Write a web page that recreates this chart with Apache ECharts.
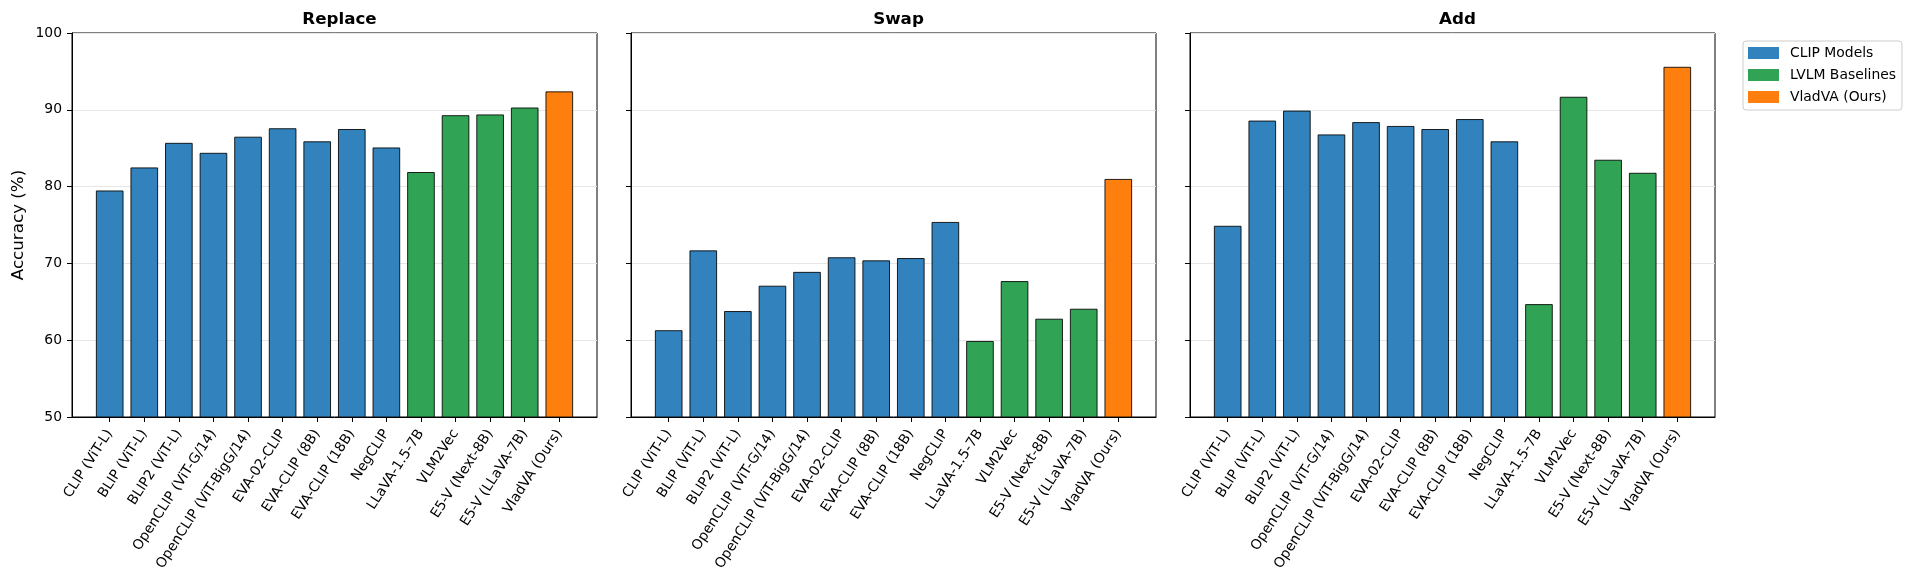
<!DOCTYPE html>
<html><head><meta charset="utf-8">
<script src="https://cdn.jsdelivr.net/npm/echarts@6/dist/echarts.min.js"></script>
<style>html,body{margin:0;padding:0;background:#fff}#c{width:1920px;height:580px}</style>
</head><body><div id="c"></div>
<script>
const categories = ['CLIP (ViT-L)','BLIP (ViT-L)','BLIP2 (ViT-L)','OpenCLIP (ViT-G/14)','OpenCLIP (ViT-BigG/14)','EVA-02-CLIP','EVA-CLIP (8B)','EVA-CLIP (18B)','NegCLIP','LLaVA-1.5-7B','VLM2Vec','E5-V (Next-8B)','E5-V (LLaVA-7B)','VladVA (Ours)'];
const groupNames = ['CLIP Models','LVLM Baselines','VladVA (Ours)'];
const groupOf = [0,0,0,0,0,0,0,0,0,1,1,1,1,2];
const panelTitles = ['Replace','Swap','Add'];
const replaceValues = [79.5, 82.5, 85.7, 84.4, 86.5, 87.6, 85.9, 87.5, 85.1, 81.9, 89.3, 89.4, 90.3, 92.4];
const swapValues    = [61.3, 71.7, 63.8, 67.1, 68.9, 70.8, 70.4, 70.7, 75.4, 59.9, 67.7, 62.8, 64.1, 81.0];
const addValues     = [74.9, 88.6, 89.9, 86.8, 88.4, 87.9, 87.5, 88.8, 85.9, 64.7, 91.7, 83.5, 81.8, 95.6];
const yMin = 50, yMax = 100, yStep = 10;
const yAxisTitle = 'Accuracy (%)';
const colors = ['#3182bd','#31a354','#ff7f0e'];

const panels = [replaceValues, swapValues, addValues];
const gridLeft = [72, 631, 1190], gridW = 525, gridTop = 33, gridH = 384;
const n = categories.length;
const pad = 0.05 * ((n - 1 + 0.4) - (-0.4));
const xMin = -0.4 - pad, xMax = n - 1 + 0.4 + pad;
const barPx = 0.8 * gridW / (xMax - xMin);
const idx = categories.map((_, i) => i);
const FONT = 'DejaVu Sans';

const grids = [], xAxes = [], yAxes = [], series = [], titles = [];
panels.forEach((vals, p) => {
  grids.push({left: gridLeft[p], top: gridTop, width: gridW, height: gridH, show: true,
    borderColor: '#000', borderWidth: 1, backgroundColor: 'transparent'});
  titles.push({text: panelTitles[p], left: gridLeft[p] + gridW / 2, top: 6, textAlign: 'center',
    textStyle: {fontFamily: FONT, fontWeight: 'bold', fontSize: 16.7, color: '#000'}});
  xAxes.push({type: 'value', gridIndex: p, min: xMin, max: xMax,
    splitLine: {show: false},
    axisLine: {show: true, onZero: false, lineStyle: {color: '#000', width: 1}},
    axisTick: {show: true, customValues: idx, length: 5, inside: false, lineStyle: {color: '#000', width: 1}},
    axisLabel: {show: true, customValues: idx, rotate: 57, margin: 14,
      formatter: v => categories[Math.round(v)] || '',
      fontFamily: FONT, fontSize: 13.9, color: '#000'}});
  yAxes.push({type: 'value', gridIndex: p, min: yMin, max: yMax, interval: yStep,
    name: p === 0 ? yAxisTitle : '', nameLocation: 'middle', nameGap: 45,
    nameTextStyle: {fontFamily: FONT, fontSize: 16.7, color: '#000'},
    axisLine: {show: true, onZero: false, lineStyle: {color: '#000', width: 1}},
    axisTick: {show: true, length: 5, inside: false, lineStyle: {color: '#000', width: 1}},
    axisLabel: {show: p === 0, margin: 10, fontFamily: FONT, fontSize: 13.9, color: '#000'},
    splitLine: {show: true, lineStyle: {color: '#e6e6e6', width: 1.1}}});
  groupNames.forEach((gName, g) => {
    series.push({type: 'bar', name: gName, xAxisIndex: p, yAxisIndex: p,
      barWidth: barPx, barGap: '-100%',
      itemStyle: {color: colors[g], borderColor: 'rgba(0,0,0,0.85)', borderWidth: 1},
      data: vals.map((v, i) => groupOf[i] === g ? [i, v] : null).filter(d => d !== null)});
  });
});

const chart = echarts.init(document.getElementById('c'), null, {renderer: 'canvas'});
chart.setOption({
  animation: false,
  backgroundColor: '#fff',
  title: titles,
  grid: grids,
  xAxis: xAxes,
  yAxis: yAxes,
  legend: {data: groupNames, orient: 'vertical', left: 1743, top: 41,
    icon: 'rect', itemWidth: 31, itemHeight: 12, itemGap: 8,
    itemStyle: {borderWidth: 0},
    padding: [5, 6, 6, 5], borderColor: '#cccccc', borderWidth: 1, borderRadius: 3,
    backgroundColor: '#fff',
    textStyle: {fontFamily: FONT, fontSize: 13.9, color: '#000', padding: [0, 0, 0, 6]}},
  series: series
});
</script></body></html>
